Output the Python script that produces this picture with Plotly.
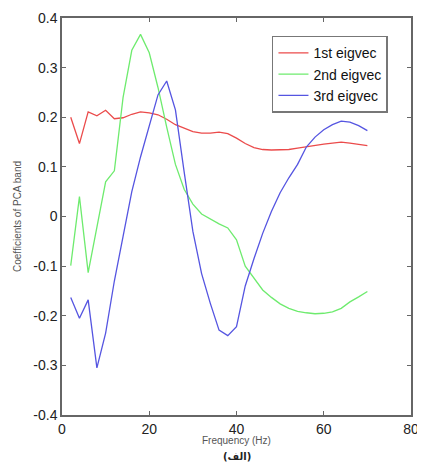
import plotly.graph_objects as go

freq = list(range(2, 72, 2))
eig1 = [0.200, 0.147, 0.211, 0.203, 0.214, 0.197, 0.199, 0.206, 0.211, 0.209,
        0.205, 0.196, 0.185, 0.178, 0.171, 0.168, 0.168, 0.170, 0.167, 0.158,
        0.147, 0.139, 0.135, 0.134, 0.134, 0.135, 0.138, 0.141, 0.144, 0.146,
        0.148, 0.150, 0.148, 0.146, 0.143]
eig2 = [-0.099, 0.040, -0.113, -0.025, 0.070, 0.092, 0.240, 0.335, 0.367, 0.330,
        0.260, 0.180, 0.105, 0.055, 0.025, 0.005, -0.005, -0.015, -0.023, -0.047,
        -0.100, -0.125, -0.148, -0.163, -0.176, -0.185, -0.191, -0.194, -0.196, -0.195,
        -0.192, -0.185, -0.172, -0.162, -0.151]
eig3 = [-0.163, -0.205, -0.168, -0.305, -0.235, -0.130, -0.040, 0.050, 0.120, 0.185,
        0.245, 0.273, 0.215, 0.090, -0.030, -0.115, -0.175, -0.229, -0.240, -0.222,
        -0.140, -0.085, -0.034, 0.010, 0.048, 0.078, 0.105, 0.140, 0.160, 0.175,
        0.185, 0.192, 0.190, 0.183, 0.173]
names = ["1st eigvec", "2nd eigvec", "3rd eigvec"]
colors = ["rgb(235,75,75)", "rgb(110,235,110)", "rgb(85,85,225)"]
xticks = [0, 20, 40, 60, 80]
xticktext = ["0", "20", "40", "60", "80"]
yticks = [-0.4, -0.3, -0.2, -0.1, 0, 0.1, 0.2, 0.3, 0.4]
yticktext = ["-0.4", "-0.3", "-0.2", "-0.1", "0", "0.1", "0.2", "0.3", "0.4"]

fig = go.Figure()
for name, vals, col in zip(names, [eig1, eig2, eig3], colors):
    fig.add_trace(go.Scatter(x=freq, y=vals, mode="lines", name=name,
                             line=dict(color=col, width=1.3)))

axis_common = dict(showline=True, linecolor="#666", linewidth=1.5, mirror="ticks",
                   ticks="inside", ticklen=4, tickcolor="#666", showgrid=False,
                   zeroline=False, ticklabeloverflow="allow",
                   tickfont=dict(family="Liberation Sans, Arial", size=14, color="#222"))

fig.update_layout(
    width=417, height=455,
    margin=dict(l=54, r=14, t=10, b=48, autoexpand=False),
    paper_bgcolor="white", plot_bgcolor="white",
    showlegend=True,
    legend=dict(x=0.934, y=0.955, xanchor="right", yanchor="top",
                bordercolor="#777", borderwidth=1.5, bgcolor="white",
                font=dict(family="Liberation Sans, Arial", size=14, color="#111"),
                tracegroupgap=0, itemwidth=30),
    xaxis=dict(range=[0, 80], tickvals=xticks, ticktext=xticktext, **axis_common),
    yaxis=dict(range=[-0.4, 0.4], tickvals=yticks, ticktext=yticktext,
               title=dict(text="Coefficients of PCA band", standoff=10,
                          font=dict(family="Liberation Sans, Arial", size=10, color="#555")),
               **axis_common),
    annotations=[
        dict(text="Frequency (Hz)", x=0.5, y=-0.045, xref="paper", yref="paper",
             xanchor="center", yanchor="top", showarrow=False,
             font=dict(family="Liberation Sans, Arial", size=10, color="#555")),
        dict(text="<b>(الف)</b>", x=0.5, y=-0.085, xref="paper", yref="paper",
             xanchor="center", yanchor="top", showarrow=False,
             font=dict(family="DejaVu Sans", size=10, color="#222")),
    ],
)

fig.write_html("out.html")
